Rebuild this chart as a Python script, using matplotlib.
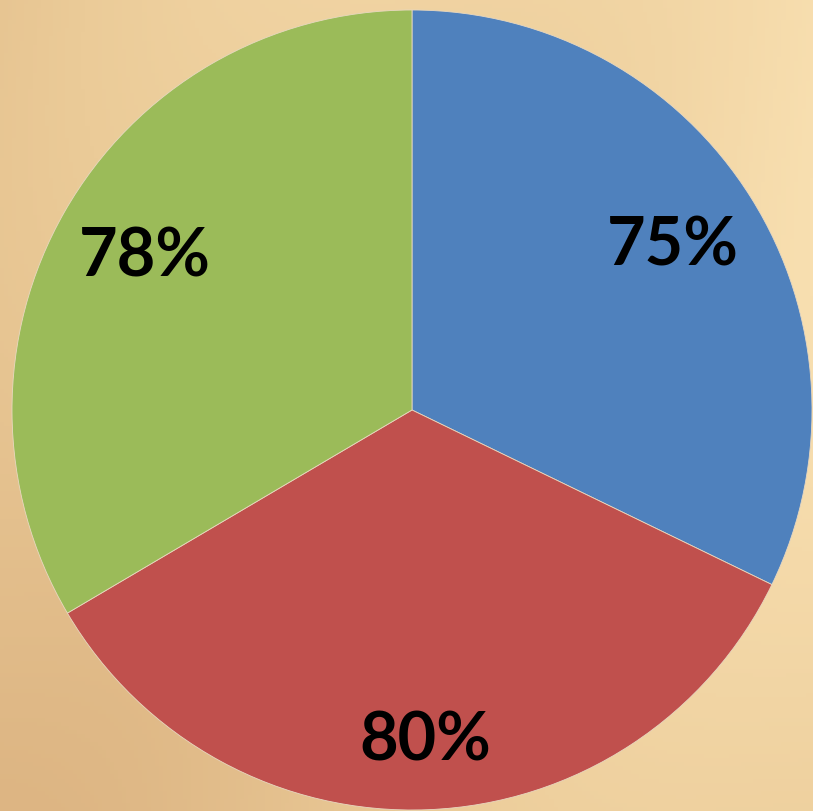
import numpy as np
import matplotlib.pyplot as plt
from matplotlib.colors import LinearSegmentedColormap

values = [75, 80, 78]
labels = ['75%', '80%', '78%']
colors = ['#4F81BD', '#C0504D', '#9BBB59']
label_r = [0.77, 0.83, 0.77]

fig = plt.figure(figsize=(8.13, 8.11), dpi=100)

# beige textured-looking background (smooth gradient)
bg = fig.add_axes([0, 0, 1, 1])
bg.axis('off')
yy, xx = np.mgrid[0:1:200j, 0:1:200j]
grad = 0.55 * xx + 0.25 * (1 - yy) + 0.1 * np.sin(6 * xx + 4 * yy)
cmap = LinearSegmentedColormap.from_list('beige', ['#DDB583', '#EBCB98', '#F8DFB0'])
bg.imshow(grad, cmap=cmap, aspect='auto', extent=[0, 1, 0, 1], origin='upper')

ax = fig.add_axes([0, 0, 1, 1])
ax.set_facecolor('none')
wedges, _ = ax.pie(values, colors=colors, startangle=90, counterclock=False,
                   radius=1, wedgeprops=dict(edgecolor='#E8D8C0', linewidth=0.6))

for w, lab, r in zip(wedges, labels, label_r):
    ang = np.deg2rad((w.theta1 + w.theta2) / 2)
    ax.text(r * np.cos(ang), r * np.sin(ang), lab, ha='center', va='center',
            fontsize=48, fontweight='bold', family=['Lato', 'DejaVu Sans'], color='black')

ax.set_xlim(-412 / 400, 401 / 400)
ax.set_ylim(-401 / 400, 410 / 400)
ax.set_aspect('equal')
ax.axis('off')

plt.savefig('out.png', dpi=100)
